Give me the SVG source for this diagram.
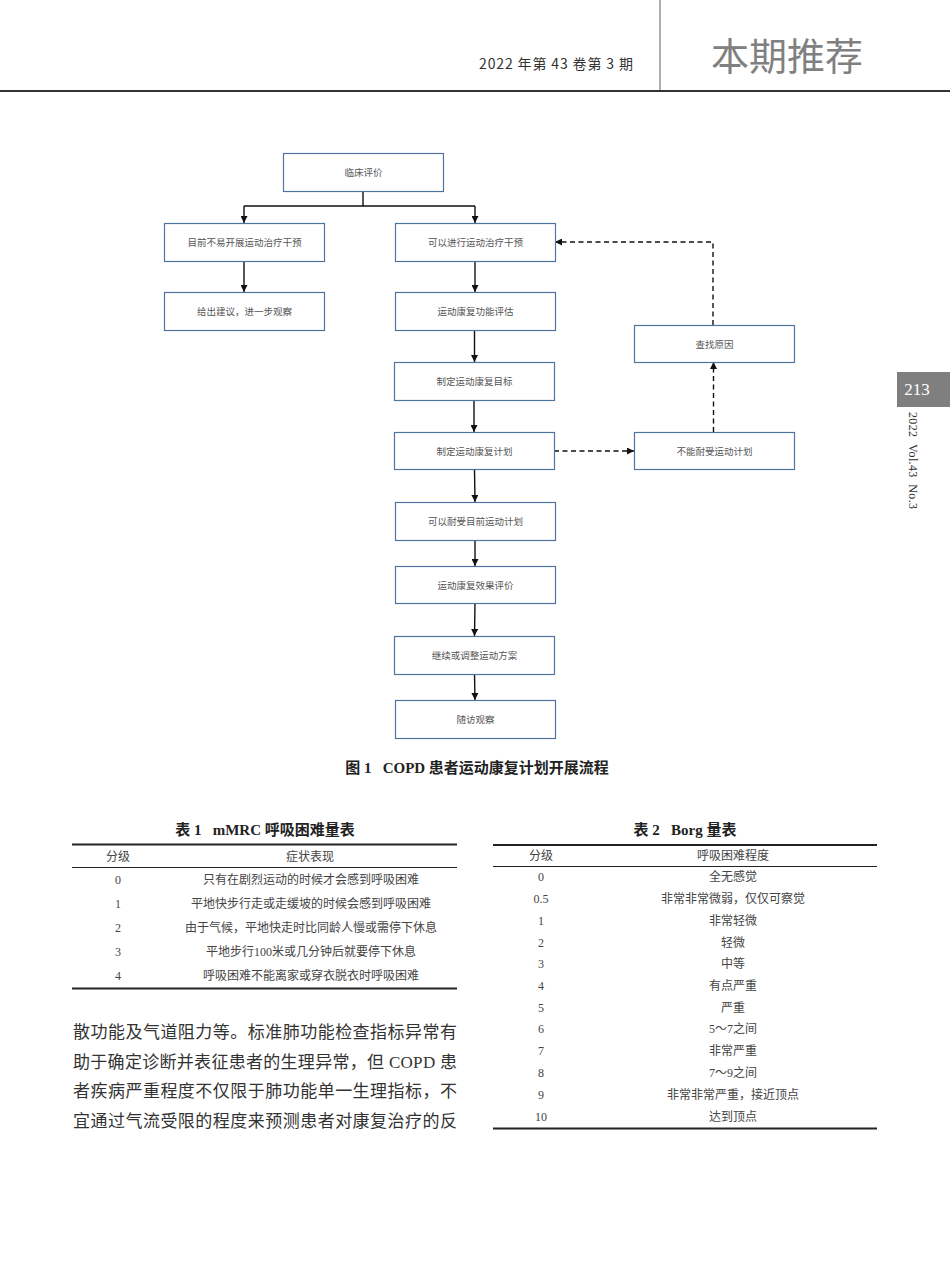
<svg xmlns="http://www.w3.org/2000/svg" width="950" height="1273" viewBox="0 0 950 1273">
<style>
.box{fill:#fff;stroke:#4f74a0;stroke-width:1.2}
.bt{font-family:"Liberation Serif","Noto Sans CJK SC",serif;font-size:9.5px;fill:#555;text-anchor:middle}
.ln{stroke:#111;stroke-width:1.4;fill:none}
.dl{stroke:#111;stroke-width:1.4;fill:none;stroke-dasharray:5,3.5}
.tt{font-family:"Liberation Serif","Noto Sans CJK SC",serif;font-size:15px;font-weight:bold;fill:#222;text-anchor:middle}
.td{font-family:"Liberation Serif","Noto Sans CJK SC",serif;font-size:12px;fill:#444;text-anchor:middle}
.body{font-family:"Liberation Serif","Noto Sans CJK SC",serif;font-size:17px;fill:#333}
</style>
<defs>
<marker id="ah" viewBox="0 0 10 10" refX="10" refY="5" markerWidth="7" markerHeight="7" markerUnits="userSpaceOnUse" orient="auto">
<path d="M0,0 L10,5 L0,10 z" fill="#111"/>
</marker>
</defs>
<rect width="950" height="1273" fill="#fff"/>
<g id="header">
<line x1="660" y1="0" x2="660" y2="91" stroke="#777" stroke-width="1.2"/>
<line x1="0" y1="91" x2="950" y2="91" stroke="#333" stroke-width="2"/>
<text x="633" y="69" text-anchor="end" font-family="'Noto Sans CJK SC',sans-serif" font-size="14" fill="#333" textLength="154" lengthAdjust="spacing">2022&#160;年第&#160;43&#160;卷第&#160;3&#160;期</text>
<text x="787" y="70" text-anchor="middle" font-family="'Noto Sans CJK SC',serif" font-size="38" fill="#808080">本期推荐</text>
</g>
<g id="sidetab">
<rect x="897" y="372" width="53" height="35" fill="#7f7f7f"/>
<text x="917" y="395" text-anchor="middle" font-family="'Liberation Serif',serif" font-size="17" fill="#fff">213</text>
<text x="0" y="0" transform="translate(909,412) rotate(90)" font-family="'Liberation Serif',serif" font-size="12" fill="#333" textLength="97" lengthAdjust="spacing">2022&#160;&#160;Vol.43&#160;&#160;No.3</text>
</g>
<g id="connectors">
<path class="ln" d="M363,191 V206 M244,206 H475"/>
<line class="ln" x1="244" y1="206" x2="244" y2="223" marker-end="url(#ah)"/>
<line class="ln" x1="475" y1="206" x2="475" y2="223" marker-end="url(#ah)"/>
<line class="ln" x1="244" y1="261" x2="244" y2="292" marker-end="url(#ah)"/>
<line class="ln" x1="475" y1="261" x2="475" y2="292" marker-end="url(#ah)"/>
<line class="ln" x1="474.5" y1="330" x2="474.5" y2="362" marker-end="url(#ah)"/>
<line class="ln" x1="474" y1="400" x2="474" y2="432" marker-end="url(#ah)"/>
<line class="ln" x1="474.5" y1="469" x2="475" y2="502" marker-end="url(#ah)"/>
<line class="ln" x1="475" y1="540" x2="475" y2="566" marker-end="url(#ah)"/>
<line class="ln" x1="475" y1="603" x2="474.5" y2="636" marker-end="url(#ah)"/>
<line class="ln" x1="474.5" y1="674" x2="475" y2="700" marker-end="url(#ah)"/>
<line class="dl" x1="554" y1="451" x2="634" y2="451" marker-end="url(#ah)"/>
<line class="dl" x1="713.5" y1="432" x2="713.5" y2="362" marker-end="url(#ah)"/>
<path class="dl" d="M713,325 V242 H562"/>
<line class="ln" x1="562" y1="242" x2="555" y2="242" marker-end="url(#ah)"/>
</g>
<g id="n1"><rect class="box" x="283.5" y="153.5" width="160" height="38"/><text class="bt" x="363.5" y="176">临床评价</text></g>
<g id="n2"><rect class="box" x="164.5" y="223.5" width="160" height="38"/><text class="bt" x="244.5" y="246">目前不易开展运动治疗干预</text></g>
<g id="n3"><rect class="box" x="164.5" y="292.5" width="160" height="38"/><text class="bt" x="244.5" y="315">给出建议，进一步观察</text></g>
<g id="n4"><rect class="box" x="395.5" y="223.5" width="160" height="38"/><text class="bt" x="475.5" y="246">可以进行运动治疗干预</text></g>
<g id="n5"><rect class="box" x="395.5" y="292.5" width="160" height="38"/><text class="bt" x="475.5" y="315">运动康复功能评估</text></g>
<g id="n6"><rect class="box" x="394.5" y="362.5" width="160" height="38"/><text class="bt" x="474.5" y="385">制定运动康复目标</text></g>
<g id="n7"><rect class="box" x="394.5" y="432.5" width="160" height="37"/><text class="bt" x="474.5" y="454.5">制定运动康复计划</text></g>
<g id="n8"><rect class="box" x="395.5" y="502.5" width="160" height="38"/><text class="bt" x="475.5" y="525">可以耐受目前运动计划</text></g>
<g id="n9"><rect class="box" x="395.5" y="566.5" width="160" height="37"/><text class="bt" x="475.5" y="588.5">运动康复效果评价</text></g>
<g id="n10"><rect class="box" x="394.5" y="636.5" width="160" height="38"/><text class="bt" x="474.5" y="659">继续或调整运动方案</text></g>
<g id="n11"><rect class="box" x="395.5" y="700.5" width="160" height="38"/><text class="bt" x="475.5" y="723">随访观察</text></g>
<g id="n12"><rect class="box" x="634.5" y="325.5" width="160" height="37"/><text class="bt" x="714.5" y="347.5">查找原因</text></g>
<g id="n13"><rect class="box" x="634.5" y="432.5" width="160" height="37"/><text class="bt" x="714.5" y="454.5">不能耐受运动计划</text></g>
<g id="caption">
<text class="tt" x="477" y="773">图 1&#160;&#160;&#160;COPD&#160;患者运动康复计划开展流程</text>
</g>
<g id="table1">
<text class="tt" x="265" y="835">表 1&#160;&#160;&#160;mMRC&#160;呼吸困难量表</text>
<line x1="72" y1="844.5" x2="457" y2="844.5" stroke="#222" stroke-width="2"/>
<line x1="72" y1="867.5" x2="457" y2="867.5" stroke="#222" stroke-width="1.2"/>
<line x1="72" y1="988.5" x2="457" y2="988.5" stroke="#222" stroke-width="2.2"/>
<text class="td" x="118" y="861">分级</text><text class="td" x="310" y="861">症状表现</text>
<text class="td" x="118" y="884">0</text><text class="td" x="311" y="884">只有在剧烈运动的时候才会感到呼吸困难</text>
<text class="td" x="118" y="908">1</text><text class="td" x="311" y="908">平地快步行走或走缓坡的时候会感到呼吸困难</text>
<text class="td" x="118" y="932">2</text><text class="td" x="311" y="932">由于气候，平地快走时比同龄人慢或需停下休息</text>
<text class="td" x="118" y="956">3</text><text class="td" x="311" y="956">平地步行100米或几分钟后就要停下休息</text>
<text class="td" x="118" y="980">4</text><text class="td" x="311" y="980">呼吸困难不能离家或穿衣脱衣时呼吸困难</text>
</g>
<g id="table2">
<text class="tt" x="685" y="835">表 2&#160;&#160;&#160;Borg&#160;量表</text>
<line x1="493" y1="845" x2="877" y2="845" stroke="#222" stroke-width="2"/>
<line x1="493" y1="866.5" x2="877" y2="866.5" stroke="#222" stroke-width="1.2"/>
<line x1="493" y1="1128.5" x2="877" y2="1128.5" stroke="#222" stroke-width="2.2"/>
<text class="td" x="541" y="860">分级</text><text class="td" x="733" y="860">呼吸困难程度</text>
<text class="td" x="541" y="881">0</text><text class="td" x="733" y="881">全无感觉</text>
<text class="td" x="541" y="903">0.5</text><text class="td" x="733" y="903">非常非常微弱，仅仅可察觉</text>
<text class="td" x="541" y="925">1</text><text class="td" x="733" y="925">非常轻微</text>
<text class="td" x="541" y="947">2</text><text class="td" x="733" y="947">轻微</text>
<text class="td" x="541" y="968">3</text><text class="td" x="733" y="968">中等</text>
<text class="td" x="541" y="990">4</text><text class="td" x="733" y="990">有点严重</text>
<text class="td" x="541" y="1012">5</text><text class="td" x="733" y="1012">严重</text>
<text class="td" x="541" y="1033">6</text><text class="td" x="733" y="1033">5～7之间</text>
<text class="td" x="541" y="1055">7</text><text class="td" x="733" y="1055">非常严重</text>
<text class="td" x="541" y="1077">8</text><text class="td" x="733" y="1077">7～9之间</text>
<text class="td" x="541" y="1099">9</text><text class="td" x="733" y="1099">非常非常严重，接近顶点</text>
<text class="td" x="541" y="1121">10</text><text class="td" x="733" y="1121">达到顶点</text>
</g>
<g id="bodytext">
<text class="body" x="73" y="1038" textLength="384" lengthAdjust="spacing">散功能及气道阻力等。标准肺功能检查指标异常有</text>
<text class="body" x="73" y="1068" textLength="384" lengthAdjust="spacing">助于确定诊断并表征患者的生理异常，但 COPD 患</text>
<text class="body" x="73" y="1097" textLength="384" lengthAdjust="spacing">者疾病严重程度不仅限于肺功能单一生理指标，不</text>
<text class="body" x="73" y="1127" textLength="384" lengthAdjust="spacing">宜通过气流受限的程度来预测患者对康复治疗的反</text>
</g>
</svg>
